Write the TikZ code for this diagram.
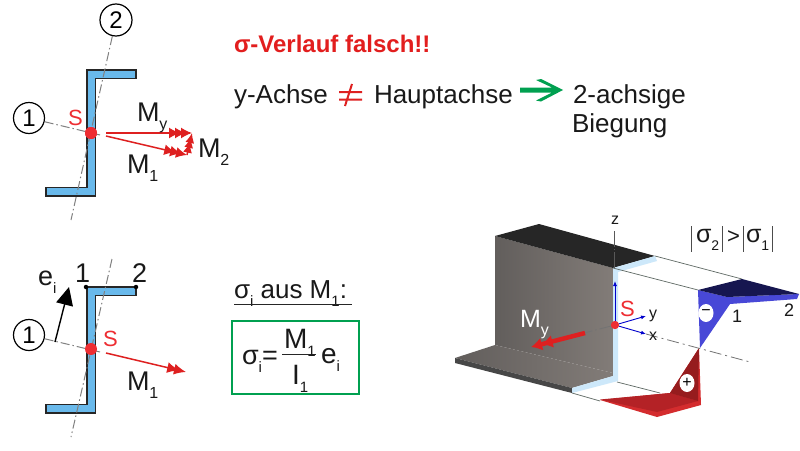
\documentclass[tikz,border=0pt]{standalone}
\usepackage{fontspec}
\setmainfont{Liberation Sans}
\usetikzlibrary{arrows.meta,shapes.geometric,calc}
\definecolor{zfill}{RGB}{105,185,235}
\definecolor{sred}{RGB}{238,45,50}
\definecolor{ared}{RGB}{222,32,32}
\definecolor{tred}{RGB}{226,30,30}
\definecolor{agreen}{RGB}{0,160,80}
\definecolor{lblue}{RGB}{205,232,250}
\definecolor{sblue}{RGB}{72,72,215}
\definecolor{dblue}{RGB}{22,22,80}
\definecolor{mred}{RGB}{150,28,30}
\definecolor{bred}{RGB}{212,44,46}
\definecolor{fred}{RGB}{180,34,38}
\definecolor{wleft}{RGB}{98,94,92}
\definecolor{wright}{RGB}{130,124,120}
\definecolor{gline}{RGB}{95,105,100}
\newcommand\fs[1]{\fontsize{#1}{#1}\selectfont}
\newcommand\subs[2][13]{\raisebox{-.32em}{\fs{#1}#2}}
\tikzset{
  x=1pt,y=-1pt,
  txt/.style={inner sep=0pt,outer sep=0pt,anchor=base west,text=black!90,font=\fs{26}},
  redtxt/.style={txt,text=tred},
  zsec/.style={draw=black!85,line width=1.5pt,fill=zfill,line join=miter},
  axisl/.style={draw=black!50,line width=1pt,dash pattern=on 9pt off 3pt on 1.5pt off 3pt},
  numc/.style={circle,draw=black,line width=1.2pt,fill=white,minimum size=31pt,inner sep=0pt,font=\fs{24}},
  sdot/.style={circle,fill=sred,minimum size=12pt,inner sep=0pt},
  heads3/.style={-{Latex[length=11pt,width=11pt,sep=-5pt]Latex[length=11pt,width=11pt,sep=-5pt]Latex[length=11pt,width=11pt]}},
  redarr/.style={draw=ared,line width=1.5pt},
  redarrd/.style={draw=ared,line width=1.5pt,-{Latex[length=12pt,width=11pt,sep=-5pt]Latex[length=12pt,width=11pt]}},
  thin3d/.style={draw=gline,line width=.7pt},
  baxis/.style={draw=blue!80!black,line width=.9pt,-{Latex[length=5pt,width=4pt]}},
  signc/.style={ellipse,fill=white,minimum width=15pt,minimum height=18pt,inner sep=0pt,font=\fs{16}},
  smalldot/.style={circle,fill=black,minimum size=4.5pt,inner sep=0pt},
}
\begin{document}
\begin{tikzpicture}
\useasboundingbox (0,0) rectangle (800,450);
\fill[white] (0,0) rectangle (800,450);

% ---- top Z section
\draw[zsec] (87,70) -- (136,70) -- (136,78.5) -- (95.5,78.5) -- (95.5,196) -- (46,196) -- (46,187.5) -- (87,187.5) -- cycle;
\node[sdot] (S1) at (91,133) {};
\node[numc] (c1a) at (29,118) {1};
\node[numc,minimum size=32pt] (c2a) at (116,20) {2};
\coordinate (a2end) at (71,220);
\coordinate (a1end) at (100,135);
\draw[axisl] (c2a) -- (a2end);
\draw[axisl] (c1a) -- (a1end);
\node[sdot] at (S1) {};
\node[txt,text=sred,font=\fs{22}] (Sl1) at (68,125) {S};
\coordinate (Mst) at (106,133);
\coordinate (Myt) at (192,133);
\coordinate (M1st) at (106,136);
\coordinate (M1t) at (187,155);
\draw[redarr,heads3] (Mst) -- (Myt);
\draw[redarr,heads3] (M1st) -- (M1t);
\draw[redarr,-{Latex[length=10pt,width=9pt,sep=-5pt]Latex[length=10pt,width=9pt,sep=-5pt]Latex[length=10pt,width=9pt]}] (M1t) -- (Myt);
\node[txt,font=\fs{27}] (tMy) at (137,121) {M\subs[16]{y}};
\node[txt,font=\fs{27}] (tM1) at (127,173) {M\subs[16]{1}};
\node[txt,font=\fs{27}] (tM2) at (198,157) {M\subs[16]{2}};

% ---- bottom Z section
\draw[zsec] (87,287) -- (136,287) -- (136,295.5) -- (95.5,295.5) -- (95.5,413) -- (46,413) -- (46,404.5) -- (87,404.5) -- cycle;
\node[smalldot] (d1) at (86,287) {};
\node[smalldot] (d2) at (136,287) {};
\node[numc] (c1b) at (29,335) {1};
\coordinate (b2s) at (112,259);
\coordinate (b2e) at (71,437);
\coordinate (b1e) at (100,352);
\draw[axisl] (b2s) -- (b2e);
\draw[axisl] (c1b) -- (b1e);
\node[sdot] (S2) at (91,349) {};
\node[txt,text=sred,font=\fs{22}] (Sl2) at (103,346) {S};
\coordinate (eS) at (55,342);
\coordinate (eT) at (69,287);
\draw[draw=black,line width=1.4pt,-{Triangle[length=18pt,width=17pt]}] (eS) -- (eT);
\coordinate (M3s) at (106,353);
\coordinate (M3t) at (186,372);
\draw[redarrd] (M3s) -- (M3t);
\node[txt,font=\fs{27}] (te) at (38,285) {e\subs[15]{i}};
\node[txt,font=\fs{27}] (t1) at (75,282) {1};
\node[txt,font=\fs{27}] (t2) at (132,282) {2};
\node[txt,font=\fs{27}] (tM1b) at (127,390) {M\subs[16]{1}};

% ---- headline texts
\node[redtxt,font=\fs{24}\bfseries] (title) at (234,52) {σ-Verlauf falsch!!};
\node[txt] (yA) at (234,103) {y-Achse};
\node[txt] (hA) at (374,103) {Hauptachse};
\node[txt] (ba) at (573,103) {2-achsige};
\node[txt] (bb) at (572,132) {Biegung};
% not equal sign
\coordinate (ne1) at (339,92); \coordinate (ne2) at (362,92);
\coordinate (ne3) at (339,99.5); \coordinate (ne4) at (362,99.5);
\coordinate (ne5) at (352,84); \coordinate (ne6) at (345,106);
\draw[draw=ared,line width=2pt] (ne1) -- (ne2) (ne3) -- (ne4) (ne5) -- (ne6);
\fill[agreen] (520,87.5) -- (552,87.5) -- (536,80) -- (541,79) -- (563,90) -- (541,101.5) -- (536,100.5) -- (552,92.5) -- (520,92.5) -- cycle;

% ---- formula
\node[txt,font=\fs{26}] (aus) at (234,298) {σ\subs[15]{i} aus M\subs[15]{1}:};
\coordinate (u1) at (234,304);
\coordinate (u2) at (352,304);
\draw[draw=black!85,line width=1pt] (u1) -- (u2);
\node[draw=agreen,line width=1.3pt,minimum width=127pt,minimum height=73pt,inner sep=0pt] (fbox) at (295.5,357.5) {};
\node[txt,font=\fs{27}] (fs) at (242,364) {σ\subs[15]{i}=};
\coordinate (f1) at (282,354);
\coordinate (f2) at (316,354);
\draw[draw=black!85,line width=1pt] (f1) -- (f2);
\node[txt,font=\fs{28}] (fM) at (284,348) {M\subs[15]{1}};
\node[txt,font=\fs{28}] (fI) at (292,384) {I\subs[15]{1}};
\node[txt,font=\fs{28}] (fe) at (321,363) {e\subs[15]{i}};

% ---- 3D beam
\shade[left color=wleft,right color=wright] (495,236) -- (613,268) -- (613,373) -- (495,345) -- cycle;
\fill[black!85] (495,236) -- (539,224) -- (655,256) -- (613,268) -- cycle;
\shade[left color=wleft,right color=wright] (495,345) -- (613,373) -- (613,376) -- (572,388) -- (455,358) -- cycle;
\fill[black!72] (455,358) -- (572,388) -- (572,393) -- (455,363) -- cycle;
\fill[lblue] (613,268) -- (655,256) -- (657,261) -- (618,272) -- (618,381) -- (572,393) -- (572,388) -- (613,376) -- cycle;

\coordinate (k1) at (613,268);
\coordinate (k2) at (698,290);
\coordinate (k3) at (655,256);
\coordinate (k4) at (742,279);
\coordinate (k5) at (617,382);
\coordinate (k6) at (660,393);
\coordinate (k7) at (572,393);
\coordinate (k8) at (600,401);
\draw[thin3d] (k1) -- (k2) (k3) -- (k4) (k5) -- (k6) (k7) -- (k8);

% stress blocks
\fill[bred] (699,348) -- (701,405) -- (657,417) -- (600,400) -- (670,393) -- cycle;
\fill[fred] (670,393) -- (600,399.5) -- (657,412) -- (698,401) -- cycle;
\fill[mred] (699,348) -- (670,393) -- (698,401) -- cycle;
\fill[sblue] (698,290) -- (727,297) -- (799,294) -- (797,299) -- (730,304) -- (700,348) -- cycle;
\fill[dblue] (698,290) -- (742,279) -- (799,294) -- (727,297) -- cycle;
\node[signc] (minus) at (706,313) {−};
\node[signc] (plus) at (687,383) {+};

% axes
\node[inner sep=0pt,outer sep=0pt,circle,fill=sred,minimum size=8pt] (S3) at (615,325) {};
\coordinate (ax0) at (584,333);
\coordinate (axE) at (750,362);
\draw[draw=black!55,line width=.8pt,dash pattern=on 12pt off 3pt on 1.5pt off 3pt] (S3) -- (ax0);
\coordinate (xs) at (646,334);
\draw[draw=black!55,line width=.8pt,dash pattern=on 12pt off 4pt on 2pt off 4pt] (xs) -- (axE);
\coordinate (zt) at (614,230);
\coordinate (zb) at (614,268);
\draw[draw=black!65,line width=.8pt,dash pattern=on 16pt off 2pt on 1.5pt off 2pt] (zb) -- (zt);
\coordinate (zarr) at (615,281);
\coordinate (yarr) at (646,316);
\draw[baxis] (S3) -- (zarr);
\draw[baxis] (S3) -- (yarr);
\draw[baxis] (S3) -- (xs);
\node[sdot,minimum size=8pt] at (S3) {};
\coordinate (Mys) at (585,333);
\coordinate (Myt2) at (531,347);
\draw[draw=ared,line width=4.5pt,-{Latex[length=11pt,width=13pt,sep=0pt]Latex[length=11pt,width=13pt]}] (Mys) -- (Myt2);

\node[txt,font=\fs{25},text=white] (tMy3) at (520,327) {M\subs[16]{y}};
\node[txt,text=sred,font=\fs{22}] (Sl3) at (620,316) {S};
\node[txt,font=\fs{16}] (tz) at (611,224) {z};
\node[txt,font=\fs{16}] (ty) at (649,318) {y};
\node[txt,font=\fs{16}] (tx) at (649,340) {x};
\node[txt,font=\fs{18}] (l1) at (732,322) {1};
\node[txt,font=\fs{18}] (l2) at (784,316) {2};

% |s2|>|s1|
\node[txt,font=\fs{25}] (ss2) at (696,242) {σ\subs[14]{2}};
\node[txt,font=\fs{22}] (sgt) at (727,243) {>};
\node[txt,font=\fs{25}] (ss1) at (746,242) {σ\subs[14]{1}};
\coordinate (v1a) at (691,226); \coordinate (v1b) at (691,252);
\coordinate (v2a) at (722,226); \coordinate (v2b) at (722,252);
\coordinate (v3a) at (743,226); \coordinate (v3b) at (743,252);
\coordinate (v4a) at (772,226); \coordinate (v4b) at (772,252);
\draw[draw=black!70,line width=.7pt] (v1a) -- (v1b) (v2a) -- (v2b) (v3a) -- (v3b) (v4a) -- (v4b);
\end{tikzpicture}
\end{document}
